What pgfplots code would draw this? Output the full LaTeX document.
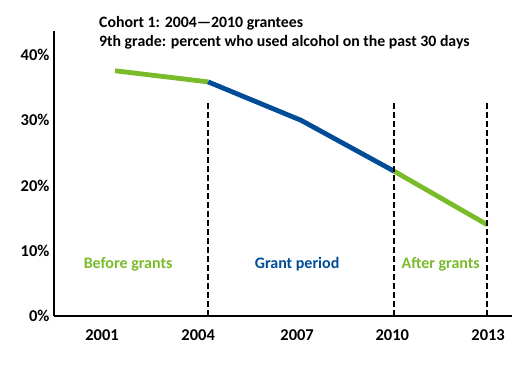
\documentclass[border=0pt]{standalone}
\usepackage{pgfplots}
\pgfplotsset{compat=1.18}
\usepackage{fontspec}
\setmainfont{Carlito}
\definecolor{cgreen}{RGB}{122,187,42}
\definecolor{cblue}{RGB}{0,76,151}
\begin{document}
\begin{tikzpicture}
\path[use as bounding box] (-54bp,-56bp) rectangle (476bp,316bp);
\begin{axis}[
  at={(0,0)}, anchor=south west,
  scale only axis, width=458bp, height=285bp,
  xmin=1999.03, xmax=2013.8, ymin=0, ymax=43.7,
  axis x line=bottom, axis y line=left,
  axis line style={-, line width=1.8bp, black},
  major tick length=0pt,
  xtick={2000.58,2003.68,2006.87,2009.94,2013.03},
  xticklabels={2001,2004,2007,2010,2013},
  ytick={0,10,20,30,40},
  yticklabel={\pgfmathprintnumber{\tick}\%},
  /pgf/number format/assume math mode=true,
  tick label style={font=\fontsize{16.5bp}{19bp}\selectfont\bfseries},
  xticklabel style={yshift=-10bp},
  yticklabel style={xshift=-1bp},
  clip=false,
]
\addplot[cgreen, line width=4.8bp] coordinates {(2001,37.6) (2004,35.9)};
\addplot[cblue, line width=4.8bp] coordinates {(2004,35.9) (2007,30.0) (2010,22.2)};
\addplot[cgreen, line width=4.8bp] coordinates {(2010,22.2) (2013,14.0)};
\addplot[black, line width=1.8bp, dash pattern=on 5.5bp off 3.5bp] coordinates {(2004,0) (2004,32.9)};
\addplot[black, line width=1.8bp, dash pattern=on 5.5bp off 3.5bp] coordinates {(2010,0) (2010,32.9)};
\addplot[black, line width=1.8bp, dash pattern=on 5.5bp off 3.5bp] coordinates {(2013,0) (2013,32.9)};
\node[anchor=base, text=cgreen, font=\fontsize{16bp}{19bp}\selectfont\bfseries] at (axis cs:2001.42,7.36) {Before grants};
\node[anchor=base, text=cblue, font=\fontsize{16bp}{19bp}\selectfont\bfseries] at (axis cs:2006.87,7.36) {Grant period};
\node[anchor=base, text=cgreen, font=\fontsize{16bp}{19bp}\selectfont\bfseries] at (axis cs:2011.5,7.36) {After grants};
\end{axis}
\node[anchor=base west, inner sep=0pt, font=\fontsize{15.8bp}{18bp}\selectfont\bfseries] at (45bp,288bp) {Cohort 1: 2004—2010 grantees};
\node[anchor=base west, inner sep=0pt, font=\fontsize{15.8bp}{18bp}\selectfont\bfseries] at (45bp,269bp) {9th grade: percent who used alcohol on the past 30 days};
\end{tikzpicture}
\end{document}
